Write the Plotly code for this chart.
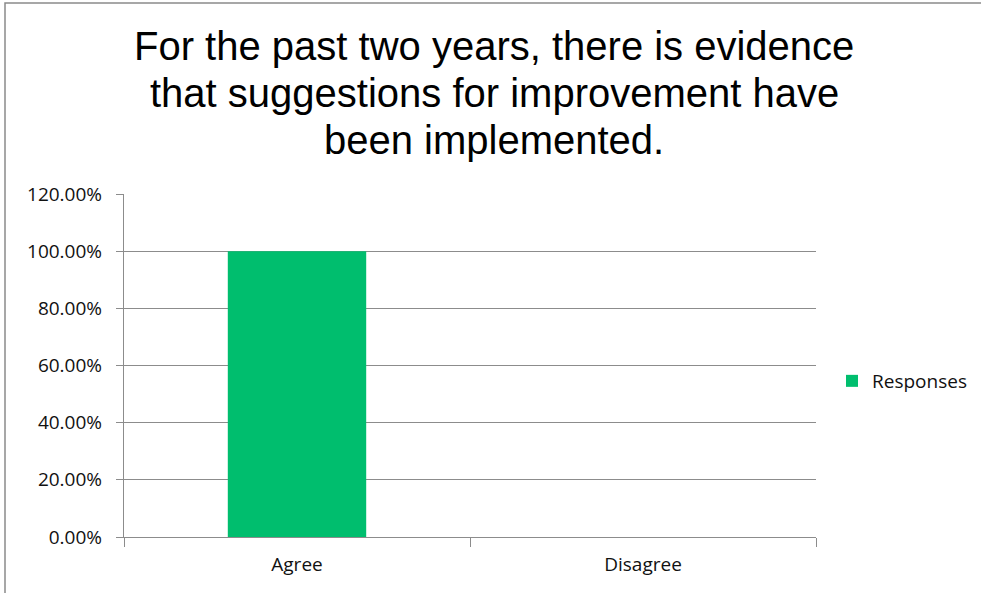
import plotly.graph_objects as go

categories = ["Agree", "Disagree"]
responses = [1.0, 0.0]
series_name = "Responses"
title_lines = [
    "For the past two years, there is evidence",
    "that suggestions for improvement have",
    "been implemented.",
]
y_ticks = [0, 0.2, 0.4, 0.6, 0.8, 1.0, 1.2]
y_tick_labels = ["0.00%", "20.00%", "40.00%", "60.00%", "80.00%", "100.00%", "120.00%"]

W, H = 981, 593
ML, MR, MT, MB = 124, 165, 194, 56
PW, PH = W - ML - MR, H - MT - MB


def px_x(x):
    return (x - ML) / PW


def px_y(y):
    return (H - MB - y) / PH


fig = go.Figure()
fig.add_trace(go.Bar(
    x=categories, y=responses, name=series_name,
    marker=dict(color="#00BE6E", line=dict(width=0)),
    showlegend=True,
))

grid_col = "#8C8C8C"
small_font = dict(family="Open Sans, Lato, sans-serif", size=19, color="#111111")

annotations = []
title_mid_px = [46, 93, 140]
for line, ypx in zip(title_lines, title_mid_px):
    annotations.append(dict(
        text=line, xref="paper", yref="paper",
        x=px_x(494), y=px_y(ypx), xanchor="center", yanchor="middle",
        showarrow=False,
        font=dict(family="Liberation Sans, Arial, sans-serif", size=40, color="#000000"),
    ))

fig.update_layout(
    width=W, height=H,
    margin=dict(l=ML, r=MR, t=MT, b=MB, pad=0, autoexpand=False),
    paper_bgcolor="white", plot_bgcolor="white",
    bargap=0.6,
    annotations=annotations,
    showlegend=True,
    legend=dict(
        x=px_x(832), y=px_y(381), xanchor="left", yanchor="middle",
        font=dict(family="Open Sans, Lato, sans-serif", size=19, color="#111111"),
        itemwidth=30, bgcolor="rgba(0,0,0,0)",
    ),
    shapes=[dict(
        type="rect", xref="paper", yref="paper",
        x0=px_x(5), x1=px_x(1010), y0=px_y(620), y1=px_y(3),
        line=dict(color="#8A8A8A", width=1.5), fillcolor="rgba(0,0,0,0)",
        layer="below",
    )],
    xaxis=dict(
        type="category", showgrid=False,
        showline=True, linecolor=grid_col, linewidth=1.3,
        ticks="outside", tickson="boundaries", ticklen=9, tickcolor=grid_col, tickwidth=1.3,
        tickfont=dict(family="Open Sans, Lato, sans-serif", size=19, color="#111111"),
        ticklabelstandoff=10,
    ),
    yaxis=dict(
        range=[0, 1.2], tickvals=y_ticks, ticktext=y_tick_labels,
        showgrid=True, gridcolor=grid_col, gridwidth=1.3,
        showline=True, linecolor=grid_col, linewidth=1.3,
        ticks="outside", ticklen=7, tickcolor=grid_col, tickwidth=1.3,
        tickfont=small_font, zeroline=False,
        ticklabelstandoff=10,
    ),
)

fig.write_html(
    "out.html",
    config={"displayModeBar": False},
    post_script="document.body.style.margin='0';document.body.style.overflow='hidden';",
)
